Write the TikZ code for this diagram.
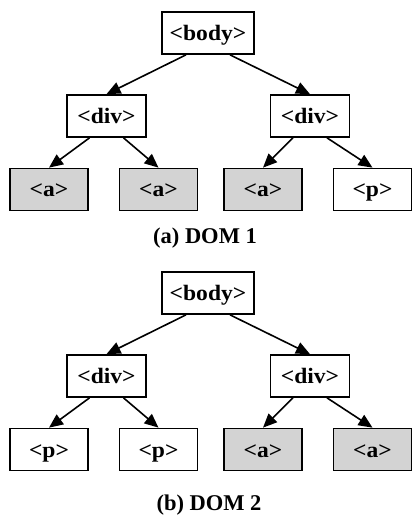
\documentclass[tikz,border=0pt]{standalone}
\usepackage{fontspec}
\setmainfont{Liberation Serif}
\newfontfamily\tagfont[FakeStretch=1.07]{Liberation Serif}
\usetikzlibrary{arrows.meta}
\definecolor{leafgray}{RGB}{211,211,211}
\tikzset{
  tag/.style={draw=black, line width=1.7bp, fill=white, minimum height=42bp, inner sep=0pt,
    font=\tagfont\bfseries\fontsize{22bp}{26bp}\selectfont, text height=15bp, text depth=0bp},
  rootbox/.style={tag, minimum width=92bp},
  divbox/.style={tag, minimum width=79bp},
  leafbox/.style={tag, minimum width=78bp},
  shaded/.style={fill=leafgray},
  edge/.style={line width=1.6bp, -{Triangle[length=14bp, width=12bp]}},
  caption/.style={font=\bfseries\fontsize{22.5bp}{26bp}\selectfont, inner sep=0pt}
}
\begin{document}
\begin{tikzpicture}[x=1bp, y=-1bp]
\useasboundingbox (0,0) rectangle (412,521);
% ---------- DOM 1 ----------
\node[rootbox] (b1) at (208,33) {<body>};
\node[divbox] (d1l) at (106.5,116) {<div>};
\node[divbox] (d1r) at (310,116) {<div>};
\node[leafbox, shaded] (l11) at (49,189.5) {<a>};
\node[leafbox, shaded] (l12) at (158.5,189.5) {<a>};
\node[leafbox, shaded] (l13) at (263,189.5) {<a>};
\node[leafbox] (l14) at (372.5,189.5) {<p>};
\node[caption] (c1) at (205,238) {(a) DOM 1};
\draw[edge] ([xshift=-22bp]b1.south) -- (d1l.north);
\draw[edge] ([xshift=22bp]b1.south) -- (d1r.north);
\draw[edge] ([xshift=-17bp]d1l.south) -- (l11.north);
\draw[edge] ([xshift=17bp]d1l.south) -- (l12.north);
\draw[edge] ([xshift=-17bp]d1r.south) -- (l13.north);
\draw[edge] ([xshift=17bp]d1r.south) -- (l14.north);
% ---------- DOM 2 ----------
\node[rootbox] (b2) at (208,293) {<body>};
\node[divbox] (d2l) at (106.5,376) {<div>};
\node[divbox] (d2r) at (310,376) {<div>};
\node[leafbox] (l21) at (49,449.5) {<p>};
\node[leafbox] (l22) at (158.5,449.5) {<p>};
\node[leafbox, shaded] (l23) at (263,449.5) {<a>};
\node[leafbox, shaded] (l24) at (372.5,449.5) {<a>};
\node[caption] (c2) at (209,505) {(b) DOM 2};
\draw[edge] ([xshift=-22bp]b2.south) -- (d2l.north);
\draw[edge] ([xshift=22bp]b2.south) -- (d2r.north);
\draw[edge] ([xshift=-17bp]d2l.south) -- (l21.north);
\draw[edge] ([xshift=17bp]d2l.south) -- (l22.north);
\draw[edge] ([xshift=-17bp]d2r.south) -- (l23.north);
\draw[edge] ([xshift=17bp]d2r.south) -- (l24.north);
\end{tikzpicture}
\end{document}
